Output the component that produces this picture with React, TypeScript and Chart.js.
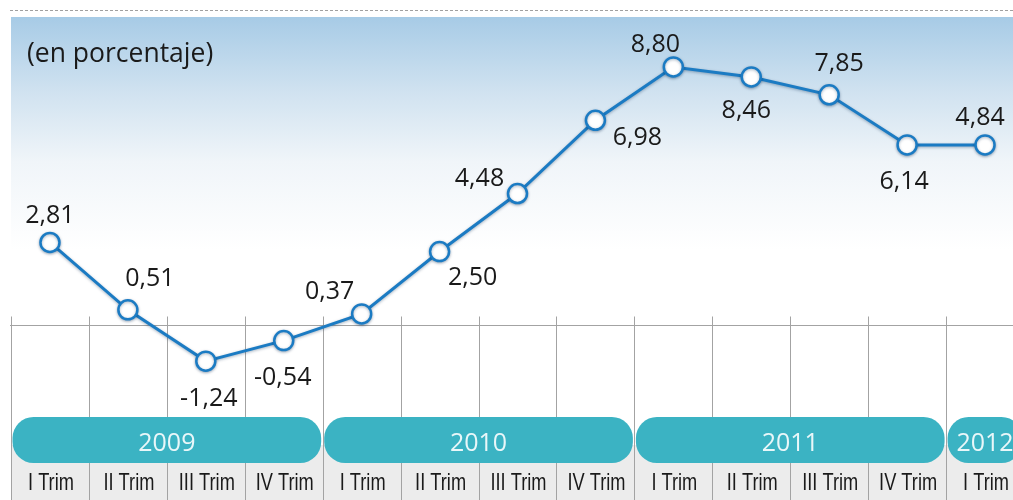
import React, { useEffect, useRef } from "react";
import { Chart, registerables } from "chart.js";

Chart.register(...registerables);

// ---- data ----
const quarters = [
  "I Trim", "II Trim", "III Trim", "IV Trim",
  "I Trim", "II Trim", "III Trim", "IV Trim",
  "I Trim", "II Trim", "III Trim", "IV Trim",
  "I Trim",
];
const years = ["2009", "2010", "2011", "2012"];
const quartersPerYear = [4, 4, 4, 1];
// plotted level as drawn in the picture
const values = [2.81, 0.51, -1.24, -0.54, 0.37, 2.5, 4.48, 6.98, 8.8, 8.46, 7.85, 6.14, 6.14];
// printed labels
const valueLabels = ["2,81", "0,51", "-1,24", "-0,54", "0,37", "2,50", "4,48", "6,98", "8,80", "8,46", "7,85", "6,14", "4,84"];
const title = "(en porcentaje)";
const yMin = -3.147;
const yMax = 10.505;

// ---- label placement (style, relative to point) ----
const labelOffsets: [number, number][] = [
  [0, -28], [22, -33], [3, 36], [-1, 35], [-32, -24], [33, 24], [-38, -17],
  [42, 16], [-18, -24], [-5, 32], [10, -33], [-3, 35], [-5, -29],
];

const CANVAS_W = 1030;
const CANVAS_H = 500;
const BLUE = "#1b7bc3";
const GRID = "#a3a3a3";
const TEAL = "#3bb3c3";
const TEXT = "#1a1a1a";

const decor = {
  id: "decor",
  beforeDraw(chart: any) {
    const { ctx, chartArea: ca, width, height } = chart;
    ctx.save();
    ctx.fillStyle = "#ffffff";
    ctx.fillRect(0, 0, width, height);
    // gradient header area
    const g = ctx.createLinearGradient(0, 17, 0, 250);
    g.addColorStop(0, "#a7cbe6");
    g.addColorStop(0.32, "#d0e2f0");
    g.addColorStop(0.62, "#f0f5f9");
    g.addColorStop(1, "#ffffff");
    ctx.fillStyle = g;
    ctx.fillRect(ca.left, 17, width - ca.left, 233);
    // dashed top line
    ctx.strokeStyle = "#a0a0a0";
    ctx.lineWidth = 1;
    ctx.setLineDash([3, 2]);
    ctx.beginPath();
    ctx.moveTo(10, 10.5);
    ctx.lineTo(width, 10.5);
    ctx.stroke();
    ctx.setLineDash([]);
    // title
    ctx.fillStyle = TEXT;
    ctx.font = "26.5px 'Open Sans'";
    ctx.textAlign = "left";
    ctx.textBaseline = "alphabetic";
    ctx.fillText(title, 27, 62);
    ctx.restore();
  },
  beforeDatasetsDraw(chart: any) {
    const { ctx, chartArea: ca, width, height } = chart;
    const xs = chart.scales.x;
    const ys = chart.scales.y;
    const n = quarters.length;
    const colW = (ca.right - ca.left) / n;
    const y0 = Math.round(ys.getPixelForValue(0)) + 0.5;
    ctx.save();
    // gray band for quarter labels
    ctx.fillStyle = "#ececec";
    ctx.fillRect(ca.left, 445, width - ca.left, height - 445);
    // zero line
    ctx.strokeStyle = GRID;
    ctx.lineWidth = 1;
    ctx.beginPath();
    ctx.moveTo(ca.left - 1, y0);
    ctx.lineTo(width, y0);
    ctx.stroke();
    // column separators
    for (let k = 0; k <= n; k++) {
      const bx = Math.round(xs.getPixelForValue(0) - colW / 2 + k * colW) + 0.5;
      ctx.beginPath();
      ctx.moveTo(bx, y0 - 9);
      ctx.lineTo(bx, height);
      ctx.stroke();
    }
    // year pills
    let start = 0;
    const pillTop = 417;
    const pillH = 46;
    const r = 21;
    years.forEach((yr, i) => {
      const cnt = quartersPerYear[i];
      const x1 = xs.getPixelForValue(start) - colW / 2 + 1.5;
      const x2 = xs.getPixelForValue(start + cnt - 1) + colW / 2 - 1.5;
      ctx.fillStyle = TEAL;
      ctx.beginPath();
      ctx.roundRect(x1, pillTop, x2 - x1, pillH, r);
      ctx.fill();
      const cx = (xs.getPixelForValue(start) + xs.getPixelForValue(start + cnt - 1)) / 2;
      ctx.fillStyle = "#e9f7f9";
      ctx.font = "25px 'Open Sans'";
      ctx.textAlign = "center";
      ctx.textBaseline = "alphabetic";
      ctx.fillText(yr, cx, 451);
      start += cnt;
    });
    // quarter labels (condensed)
    ctx.fillStyle = TEXT;
    ctx.font = "24px 'Liberation Sans'";
    ctx.textAlign = "center";
    const sx = 0.76;
    quarters.forEach((q, i) => {
      ctx.save();
      ctx.translate(xs.getPixelForValue(i) + 1, 490);
      ctx.scale(sx, 1);
      ctx.fillText(q, 0, 0);
      ctx.restore();
    });
    ctx.restore();
    // soft shadow for the line
    ctx.save();
    ctx.shadowColor = "rgba(0,40,80,0.35)";
    ctx.shadowBlur = 3;
    ctx.shadowOffsetY = 1;
  },
  afterDatasetsDraw(chart: any) {
    const { ctx } = chart;
    ctx.restore();
    const meta = chart.getDatasetMeta(0);
    ctx.save();
    ctx.fillStyle = TEXT;
    ctx.font = "25px 'Open Sans'";
    ctx.textAlign = "center";
    ctx.textBaseline = "alphabetic";
    meta.data.forEach((pt: any, i: number) => {
      const [dx, dy] = labelOffsets[i];
      ctx.fillText(valueLabels[i], pt.x + dx, pt.y + dy + 9);
    });
    ctx.restore();
  },
};

export default function App() {
  const ref = useRef<HTMLCanvasElement | null>(null);
  useEffect(() => {
    if (!ref.current) return;
    const chart = new Chart(ref.current, {
      type: "line",
      data: {
        labels: quarters,
        datasets: [
          {
            data: values,
            borderColor: BLUE,
            borderWidth: 3,
            pointRadius: 9.5,
            pointHoverRadius: 9.5,
            pointBorderWidth: 2.5,
            pointBackgroundColor: "#ffffff",
            pointBorderColor: BLUE,
            tension: 0,
            clip: false as any,
          },
        ],
      },
      options: {
        responsive: false,
        animation: false,
        devicePixelRatio: 1,
        layout: {
          autoPadding: false,
          padding: { left: 11, right: CANVAS_W - 1024, top: 17, bottom: CANVAS_H - 417 },
        },
        plugins: { legend: { display: false }, tooltip: { enabled: false } },
        scales: {
          x: { display: false, offset: true, grid: { display: false } },
          y: { display: false, min: yMin, max: yMax, grid: { display: false } },
        },
        events: [],
      },
      plugins: [decor],
    });
    return () => chart.destroy();
  }, []);
  return (
    <div style={{ position: "absolute", left: 0, top: 0, width: 1013, height: 500, overflow: "hidden", background: "#fff" }}>
      <canvas ref={ref} width={CANVAS_W} height={CANVAS_H} style={{ width: CANVAS_W, height: CANVAS_H, display: "block" }} />
    </div>
  );
}
